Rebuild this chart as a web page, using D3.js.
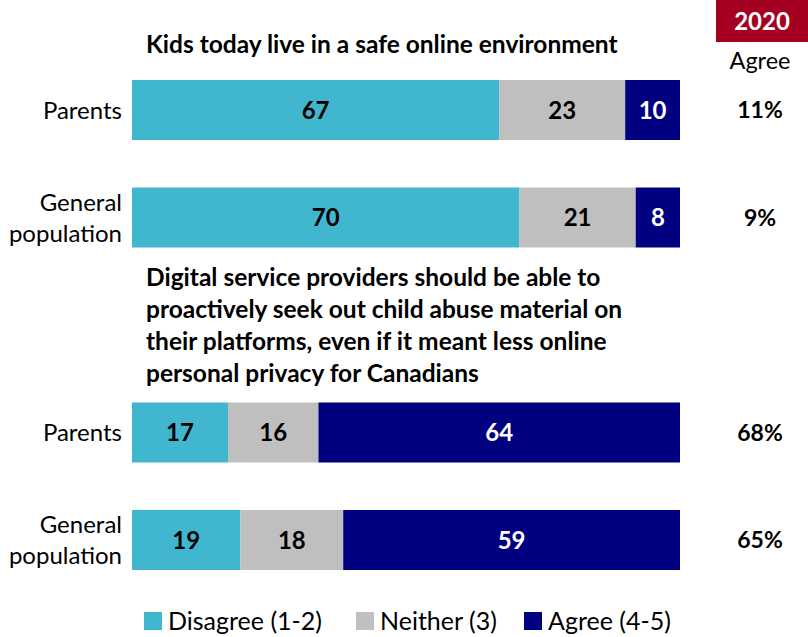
<!DOCTYPE html>
<html>
<head>
<meta charset="utf-8">
<script src="https://cdn.jsdelivr.net/npm/d3@7/dist/d3.min.js"></script>
<style>
  html, body { margin: 0; padding: 0; background: #fff; }
  svg { display: block; font-family: Lato, "Open Sans", sans-serif; }
</style>
</head>
<body>
<svg id="chart" width="808" height="637"></svg>
<script>
// Survey statements and respondent groups
const statements = [
  ["Kids today live in a safe online environment"],
  ["Digital service providers should be able to",
   "proactively seek out child abuse material on",
   "their platforms, even if it meant less online",
   "personal privacy for Canadians"]
];
const rowLabels = [["Parents"], ["General", "population"], ["Parents"], ["General", "population"]];
const rowSlot = [0, 1, 3, 4];

// Percent responses per row
const disagree = [67, 70, 17, 19];
const neither  = [23, 21, 16, 18];
const agree    = [10, 8, 64, 59];
const agree2020 = ["11%", "9%", "68%", "65%"];

const seriesNames = ["Disagree (1-2)", "Neither (3)", "Agree (4-5)"];
const seriesColors = ["#40B7CF", "#BFBFBF", "#000080"];
const seriesText = ["#000", "#000", "#fff"];
const yearLabel = "2020";
const yearSub = "Agree";

const svg = d3.select("#chart");

// Each bar is drawn as shares of its own total
const rows = disagree.map((d, i) => {
  const vals = [disagree[i], neither[i], agree[i]];
  const total = d3.sum(vals);
  let acc = 0;
  const segs = vals.map((v, k) => {
    const s = { key: k, value: v, x0: acc / total, x1: (acc + v) / total };
    acc += v;
    return s;
  });
  return { i, segs };
});

const x = d3.scaleLinear().domain([0, 1]).range([132, 680]);
const y = d3.scaleLinear().domain([0, 4]).range([110, 540]);
const barH = 60;

// Statement titles
const titleY = [53, 286];
statements.forEach((lines, s) => {
  const t = svg.append("text")
    .attr("x", 146)
    .attr("y", titleY[s])
    .attr("font-size", 24.5)
    .attr("font-weight", "bold")
    .attr("fill", "#000");
  lines.forEach((ln, j) => {
    t.append("tspan").attr("x", 146).attr("dy", j === 0 ? 0 : 32).text(ln);
  });
});

// Bars
const rowG = svg.selectAll("g.row").data(rows).join("g")
  .attr("class", "row")
  .attr("transform", d => `translate(0,${y(rowSlot[d.i])})`);

rowG.selectAll("rect").data(d => d.segs).join("rect")
  .attr("x", d => x(d.x0))
  .attr("y", -barH / 2)
  .attr("width", d => x(d.x1) - x(d.x0))
  .attr("height", barH)
  .attr("fill", d => seriesColors[d.key]);

rowG.selectAll("text.val").data(d => d.segs).join("text")
  .attr("class", "val")
  .attr("x", d => (x(d.x0) + x(d.x1)) / 2)
  .attr("y", 0)
  .attr("dy", "0.36em")
  .attr("text-anchor", "middle")
  .attr("font-size", 24)
  .attr("font-weight", "bold")
  .attr("fill", d => seriesText[d.key])
  .text(d => d.value);

// Respondent labels
rowG.append("text")
  .attr("text-anchor", "end")
  .attr("font-size", 24)
  .attr("fill", "#000")
  .each(function(d) {
    const lines = rowLabels[d.i];
    const t = d3.select(this);
    lines.forEach((ln, j) => {
      t.append("tspan")
        .attr("x", 122)
        .attr("y", (j - (lines.length - 1) / 2) * 31)
        .attr("dy", "0.36em")
        .text(ln);
    });
  });

// 2020 agree column
rowG.append("text")
  .attr("x", 760)
  .attr("dy", "0.36em")
  .attr("text-anchor", "middle")
  .attr("font-size", 23)
  .attr("font-weight", "bold")
  .attr("fill", "#000")
  .text(d => agree2020[d.i]);

svg.append("rect")
  .attr("x", 716).attr("y", 0)
  .attr("width", 92).attr("height", 42)
  .attr("fill", "#A50021");
svg.append("text")
  .attr("x", 762).attr("y", 21)
  .attr("dy", "0.36em")
  .attr("text-anchor", "middle")
  .attr("font-size", 24)
  .attr("font-weight", "bold")
  .attr("fill", "#fff")
  .text(yearLabel);
svg.append("text")
  .attr("x", 760).attr("y", 61)
  .attr("dy", "0.36em")
  .attr("text-anchor", "middle")
  .attr("font-size", 23.5)
  .attr("fill", "#000")
  .text(yearSub);

// Legend
const legendX = [144, 356, 524];
const leg = svg.selectAll("g.legend").data(seriesNames).join("g")
  .attr("class", "legend")
  .attr("transform", (d, i) => `translate(${legendX[i]},621)`);
leg.append("rect")
  .attr("x", 0).attr("y", -9)
  .attr("width", 18).attr("height", 18)
  .attr("fill", (d, i) => seriesColors[i]);
leg.append("text")
  .attr("x", 24)
  .attr("dy", "0.36em")
  .attr("font-size", 25)
  .attr("fill", "#000")
  .text(d => d);
</script>
</body>
</html>
